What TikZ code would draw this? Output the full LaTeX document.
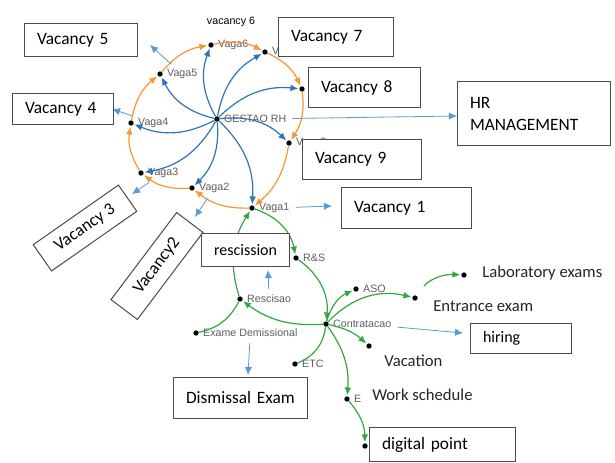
\documentclass[tikz,border=0pt]{standalone}
\usepackage{fontspec}
\setmainfont{Carlito}
\newfontfamily\arialfont{Liberation Sans}
\usetikzlibrary{arrows.meta}
\definecolor{hrblue}{RGB}{46,117,182}
\definecolor{thinblue}{RGB}{91,155,213}
\definecolor{hrorange}{RGB}{247,150,50}
\definecolor{hrgreen}{RGB}{52,168,62}
\definecolor{lblgray}{RGB}{95,95,95}
\definecolor{boxgray}{RGB}{75,75,75}
\tikzset{
  dot/.style={circle,fill=black,inner sep=0mm,minimum size=4pt},
  lbl/.style={anchor=west,inner sep=1.5pt,xshift=1.5pt,text=lblgray,font=\arialfont\fontsize{8}{9}\selectfont},
  blueflow/.style={draw=hrblue,line width=0.9pt,-{Latex[length=6pt,width=5pt]},shorten >=0.5pt},
  orangeflow/.style={draw=hrorange,line width=0.9pt,-{Latex[length=6pt,width=5pt]},shorten >=0.5pt},
  greenflow/.style={draw=hrgreen,line width=0.9pt,-{Latex[length=6pt,width=5pt]},shorten >=0.5pt},
  greenline/.style={draw=hrgreen,line width=0.9pt},
  pointer/.style={draw=thinblue,line width=0.6pt,-{Latex[length=6pt,width=5.5pt]},shorten <=3pt},
  vbox/.style={draw=boxgray,fill=white,line width=0.75pt,anchor=north west,align=left,inner xsep=9.4pt,inner ysep=0pt,font=\fontsize{13}{16.5}\selectfont},
  tiltbox/.style={draw=boxgray,fill=white,line width=0.75pt,inner sep=0pt,font=\fontsize{13}{15}\selectfont},
  plain/.style={anchor=west,inner sep=0pt,text=black!85,font=\fontsize{12.5}{15}\selectfont}
}
\begin{document}
\begin{tikzpicture}[x=0.75pt,y=-0.75pt]
\fill[white] (0,0) rectangle (615,462);
\useasboundingbox (0,0) rectangle (615,462);
\foreach \x/\y/\n/\t in {217/119/gestao/GESTAO RH, 252/208/vaga1/Vaga1, 192/188/vaga2/Vaga2, 141/173/vaga3/Vaga3, 131/123/vaga4/Vaga4, 160/74/vaga5/Vaga5, 211/45/vaga6/Vaga6, 265/52/vaga7/Vaga7, 289/143/vaga9/Vaga9, 296/258/rs/R\&S, 240/299/resc/Rescisao, 196/333/exame/Exame Demissional, 326/324/contr/Contratacao, 356/289/aso/ASO, 295/364/etc/ETC, 347/399/escala/E}
  {\node[dot] (\n) at (\x,\y) {};
   \node[lbl] (l\n) at (\n.east) {\t};}
\foreach \x/\y/\n in {302/89/vaga8, 415/298/entr, 464/275/lab, 369/346/vac, 365/446/digital}
  \node[dot] (\n) at (\x,\y) {};
\foreach \n in {vaga1,vaga2,vaga3,vaga4,vaga5,vaga6,vaga7,vaga8,vaga9}
  \draw[blueflow] (gestao) to[bend left=25] (\n);
\foreach \s/\t in {vaga1/vaga2, vaga2/vaga3, vaga3/vaga4, vaga4/vaga5, vaga5/vaga6, vaga6/vaga7, vaga7/vaga8, vaga8/vaga9, vaga9/vaga1}
  \draw[orangeflow] (\s) to[bend left=20] (\t);
\foreach \s/\t/\b in {vaga1/rs/30, rs/contr/30, contr/resc/20, resc/vaga1/25, contr/aso/25, contr/entr/30, contr/vac/15, contr/escala/20, escala/digital/20}
  \draw[greenflow] (\s) to[bend left=\b] (\t);
\draw[greenflow,shorten <=9pt] (entr) to[bend left=28] (lab);
\draw[greenline] (exame) to[bend right=25] (resc);
\draw[greenline] (contr) to[bend left=30] (etc);
\foreach \s/\x/\y/\n in {lvaga5/150/45/p5, lvaga4/112/109/p4, lvaga3/132/194/p3, lvaga2/195/217/p2, lvaga1/332/206/p1, lgestao/457/116/phr, lcontr/463/333/phiring, lresc/268/270/presc, lexame/248/375/pexame}
  {\coordinate (\n) at (\x,\y);
   \draw[pointer] (\s) -- (\n);}
\node[tiltbox,rotate=35,minimum width=78pt,minimum height=24pt] (v3) at (85,228) {Vacancy 3};
\node[tiltbox,rotate=53,minimum width=81.75pt,minimum height=24.75pt] (v2) at (157,266) {Vacancy2};
\node[vbox,text width=65.95pt,minimum height=24.75pt] (v5) at (24,23) {Vacancy 5};
\node[vbox,text width=67.45pt,minimum height=29.25pt] (v7) at (278,17) {Vacancy 7};
\node[vbox,text width=65.2pt,minimum height=30pt] (v8) at (308,67) {Vacancy 8};
\node[vbox,text width=95.95pt,minimum height=48pt] (hr) at (457,81) {HR\\MANAGEMENT};
\node[vbox,text width=56.95pt,minimum height=23.25pt] (v4) at (12,93) {Vacancy 4};
\node[vbox,text width=70.45pt,minimum height=30pt] (v9) at (302,139) {Vacancy 9};
\node[vbox,text width=78.7pt,minimum height=30.75pt] (v1) at (341,187) {Vacancy 1};
\node[vbox,text width=47.2pt,minimum height=24.75pt,font=\fontsize{12}{14}\selectfont] (rescission) at (201,233) {rescission};
\node[vbox,text width=81.7pt,minimum height=30.75pt] (dismissal) at (173,377) {Dismissal Exam};
\node[vbox,text width=56.95pt,minimum height=22.5pt,font=\fontsize{12}{14}\selectfont] (hiring) at (470,323) {hiring};
\node[vbox,text width=90.7pt,minimum height=25.5pt] (digitalpt) at (369,427) {digital point};
\node[font=\arialfont\fontsize{8}{9}\selectfont,inner sep=0pt] (vac6) at (231,22) {vacancy 6};
\foreach \x/\y/\n/\t in {482/273/labtxt/Laboratory exams, 433/306/entrtxt/Entrance exam, 384/361/vactxt/Vacation, 372/395/worktxt/Work schedule}
  \node[plain] (\n) at (\x,\y) {\t};
\end{tikzpicture}
\end{document}
